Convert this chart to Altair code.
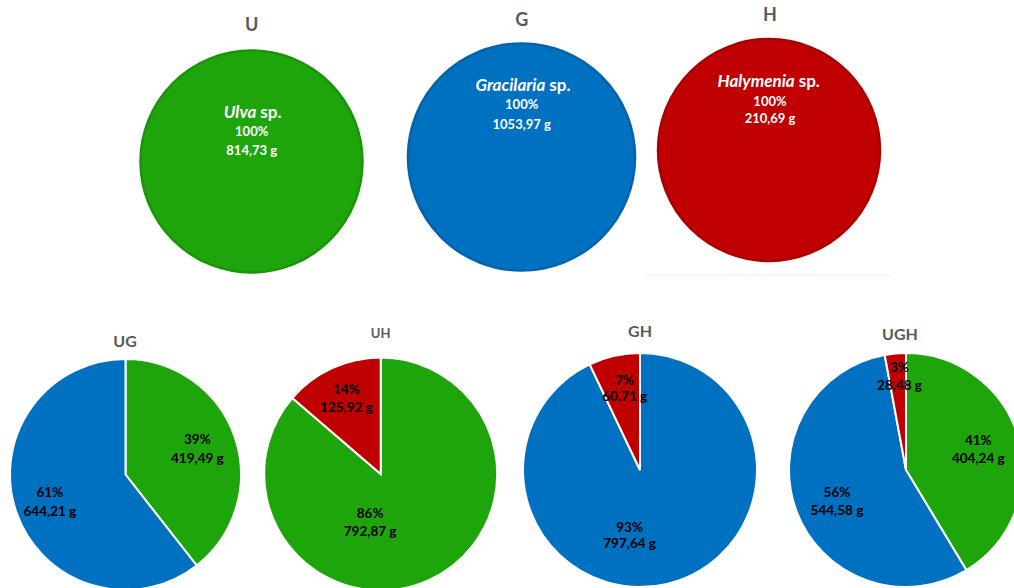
import math

import altair as alt
import pandas as pd

# ---------------------------------------------------------------- data
SPECIES = ["Ulva", "Gracilaria", "Halymenia"]
FILL = ["#1fa50c", "#0070c0", "#c00000"]
EDGE = ["#1a930a", "#0063ab", "#a80000"]

# single-species cultures
SINGLE_NAMES = ["U", "G", "H"]
SINGLE_SPECIES = ["Ulva", "Gracilaria", "Halymenia"]
SINGLE_GRAMS = [814.73, 1053.97, 210.69]

# mixed cultures, slices listed clockwise from 12 o'clock
MIX_NAMES = ["UG", "UH", "GH", "UGH"]
UG_SPECIES = ["Ulva", "Gracilaria"]
UG_GRAMS = [419.49, 644.21]
UH_SPECIES = ["Ulva", "Halymenia"]
UH_GRAMS = [792.87, 125.92]
GH_SPECIES = ["Gracilaria", "Halymenia"]
GH_GRAMS = [797.64, 60.71]
UGH_SPECIES = ["Ulva", "Gracilaria", "Halymenia"]
UGH_GRAMS = [404.24, 544.58, 28.48]
MIX_SPECIES = [UG_SPECIES, UH_SPECIES, GH_SPECIES, UGH_SPECIES]
MIX_GRAMS = [UG_GRAMS, UH_GRAMS, GH_GRAMS, UGH_GRAMS]

# ---------------------------------------------------------------- layout
W, H = 1014, 588
FONT = "Lato"
TITLE_GREY = "#595959"

# centre, radius, title position, label positions (y1: name line, y2: first value line)
TOP_LAYOUT = [
    dict(cx=251.5, cy=161.5, r=111, tx=251.7, ty=25.5, gap=258.3, y1=113, y2=132.0, lh=18.5),
    dict(cx=521.5, cy=157.0, r=113.5, tx=521.7, ty=21.0, gap=547.3, y1=86, y2=105.3, lh=19.5),
    dict(cx=769.0, cy=150.0, r=111, tx=770.0, ty=16.0, gap=796.7, y1=81.7, y2=101.7, lh=17.0),
]
# per slice: (label radius, dx, dy) for the centre of the two-line label
MIX_LAYOUT = [
    dict(cx=125.5, cy=474.5, r=115.5, tx=125.0, ty=341.5, ts=16, lh=19,
         labels=[(76, 0, 0), (80, 0, 2)]),
    dict(cx=380.7, cy=474.0, r=116.5, tx=380.7, ty=334.0, ts=13, lh=18,
         labels=[(80, -44, -24), (82, 0, 0)]),
    dict(cx=640.0, cy=470.0, r=117.0, tx=640.0, ty=331.5, ts=16, lh=16,
         labels=[(80, -28, -12), (83, 3, 0)]),
    dict(cx=906.0, cy=470.0, r=117.0, tx=900.0, ty=334.5, ts=16, lh=18,
         labels=[(75, 0, 0), (76, 2, 5), (93, 2, 0)]),
]

THETA = alt.Scale(domain=[0, 1], range=[0, 2 * math.pi])
COLOR = alt.Scale(domain=SPECIES, range=FILL)
EDGE_SCALE = alt.Scale(domain=SPECIES, range=EDGE)


def slices(species, grams):
    """Chart base with start/end/mid fractions and label strings per slice."""
    df = pd.DataFrame({"species": species, "grams": grams,
                       "k": list(range(len(species)))})
    return (
        alt.Chart(df)
        .transform_joinaggregate(total="sum(grams)")
        .transform_window(cum="sum(grams)", sort=[alt.SortField("k")],
                          frame=[None, 0])
        .transform_calculate(
            start="(datum.cum - datum.grams) / datum.total",
            end="datum.cum / datum.total",
            mid="(datum.cum - datum.grams / 2) / datum.total",
            pct="format(datum.grams / datum.total, '.0%')",
            mass="replace(format(datum.grams, '.2f'), '.', ',') + ' g'",
        )
        .transform_calculate(label="datum.pct + '\\n' + datum.mass")
    )


def title(name, x, y, size):
    return (
        alt.Chart(pd.DataFrame({"name": [name]}))
        .mark_text(font=FONT, fontSize=size, fontWeight="bold",
                   color=TITLE_GREY, baseline="middle")
        .encode(x=alt.value(x), y=alt.value(y), text="name:N")
    )


layers = []

# single-species pies with species name and total mass inside
for name, sp, g, lay in zip(SINGLE_NAMES, SINGLE_SPECIES, SINGLE_GRAMS, TOP_LAYOUT):
    base = slices([sp], [g])
    pos = dict(x=alt.value(lay["cx"]), y=alt.value(lay["cy"]))
    layers.append(
        base.mark_arc(radius=lay["r"], strokeWidth=2.5).encode(
            theta=alt.Theta("start:Q", scale=THETA, stack=None),
            theta2="end:Q",
            color=alt.Color("species:N", scale=COLOR, legend=None),
            stroke=alt.Stroke("species:N", scale=EDGE_SCALE, legend=None),
            **pos,
        )
    )
    layers.append(
        base.mark_text(font=FONT, fontSize=17, fontWeight="bold", fontStyle="italic",
                       color="white", align="right", baseline="middle", dx=-2)
        .encode(x=alt.value(lay["gap"]), y=alt.value(lay["y1"]), text="species:N")
    )
    layers.append(
        base.mark_text(font=FONT, fontSize=17, fontWeight="bold", color="white",
                       align="left", baseline="middle", dx=2, text="sp.")
        .encode(x=alt.value(lay["gap"]), y=alt.value(lay["y1"]))
    )
    layers.append(
        base.mark_text(font=FONT, fontSize=13, fontWeight="bold", color="white",
                       align="center", baseline="middle", lineBreak="\n",
                       lineHeight=lay["lh"])
        .encode(x=alt.value(lay["tx"]), y=alt.value(lay["y2"]), text="label:N")
    )
    layers.append(title(name, lay["tx"], lay["ty"], 18))

# faint rule left under the H pie
layers.append(
    alt.Chart(pd.DataFrame({"v": [0]}))
    .mark_rule(color="#eeeeee", strokeWidth=1)
    .encode(x=alt.value(645), x2=alt.value(892), y=alt.value(275))
)

# mixed-culture pies with percentage and mass per slice
for name, sp, g, lay in zip(MIX_NAMES, MIX_SPECIES, MIX_GRAMS, MIX_LAYOUT):
    base = slices(sp, g)
    pos = dict(x=alt.value(lay["cx"]), y=alt.value(lay["cy"]))
    layers.append(
        base.mark_arc(radius=lay["r"], stroke="white", strokeWidth=2).encode(
            theta=alt.Theta("start:Q", scale=THETA, stack=None),
            theta2="end:Q",
            color=alt.Color("species:N", scale=COLOR, legend=None),
            **pos,
        )
    )
    for k, (lr, dx, dy) in enumerate(lay["labels"]):
        # first line sits on the anchor, so lift by half a line to centre the pair
        layers.append(
            base.transform_filter(alt.datum.k == k)
            .mark_text(radius=lr, dx=dx, dy=dy - lay["lh"] / 2, font=FONT,
                       fontSize=13.5, fontWeight="bold", color="black",
                       align="center", baseline="middle", lineBreak="\n",
                       lineHeight=lay["lh"])
            .encode(
                theta=alt.Theta("mid:Q", scale=THETA, stack=None),
                text="label:N",
                **pos,
            )
        )
    layers.append(title(name, lay["tx"], lay["ty"], lay["ts"]))

chart = (
    alt.layer(*layers)
    .properties(width=W, height=H, padding=0,
                autosize=alt.AutoSizeParams(type="none"), background="white")
    .configure_view(stroke=None)
)

chart.save("out.html", embed_options={"renderer": "svg", "actions": False})
